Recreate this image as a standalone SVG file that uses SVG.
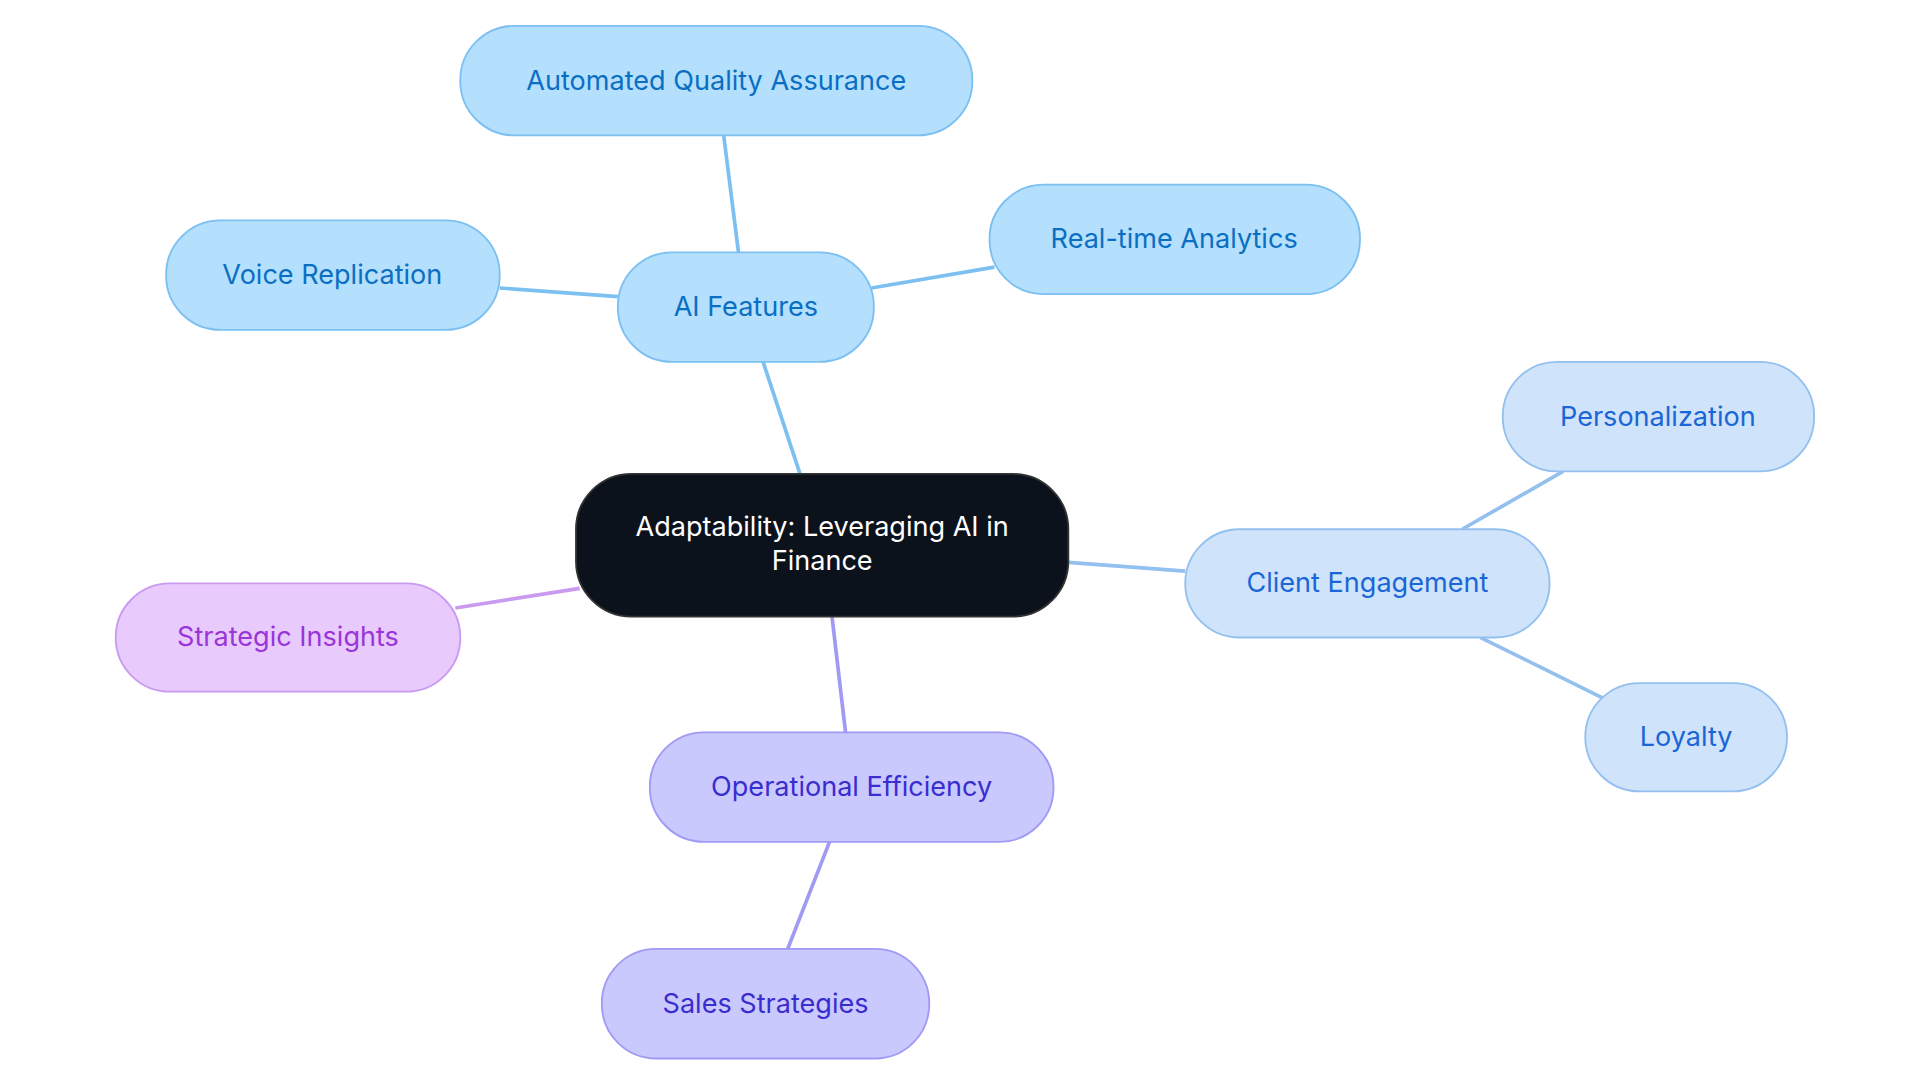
<svg xmlns="http://www.w3.org/2000/svg" width="1920" height="1083" viewBox="0 0 1920 1083">
<style>
text{font-family:Inter,"Noto Sans","Liberation Sans",sans-serif;font-size:22px;text-anchor:middle;dominant-baseline:central}
.e{fill:none;stroke-width:3}
.b rect{fill:#b4dffd;stroke:#7cc0f2;stroke-width:1.5}.b text{fill:#0a6fc2}
.c rect{fill:#cfe3fb;stroke:#94c0ef;stroke-width:1.5}.c text{fill:#1a66d6}
.p rect{fill:#c9c9fd;stroke:#a09af4;stroke-width:1.5}.p text{fill:#3a2dcf}
.m rect{fill:#e8cafd;stroke:#c99af0;stroke-width:1.5}.m text{fill:#9a35d9}
</style>
<rect width="1920" height="1083" fill="#fff"/>
<g transform="scale(1.23077)">
<g id="connectors">
<path class="e" stroke="#7cc0f2" d="M650 385L620 294M600 205L588 110M708 234L808 217M502 241L406 234"/>
<path class="e" stroke="#94c0ef" d="M868 457L963 464M1188 430L1270 383M1203 518L1302 567"/>
<path class="e" stroke="#c99af0" d="M471 478L370 494"/>
<path class="e" stroke="#a09af4" d="M676 501L687 595M674 684L640 771"/>
</g>
<g id="center"><rect x="468" y="385" width="400" height="116" rx="45" fill="#0c121c" stroke="#333" stroke-width="1.5"/><text x="668" y="428" fill="#fff">Adaptability: Leveraging AI in</text><text x="668" y="455" fill="#fff">Finance</text></g>
<g id="ai" class="b"><rect x="502" y="205" width="208" height="89" rx="44"/><text x="606" y="249">AI Features</text></g>
<g id="aqa" class="b"><rect x="374" y="21" width="416" height="89" rx="44"/><text x="582" y="65">Automated Quality Assurance</text></g>
<g id="rta" class="b"><rect x="804" y="150" width="301" height="89" rx="44"/><text x="954" y="194">Real-time Analytics</text></g>
<g id="voice" class="b"><rect x="135" y="179" width="271" height="89" rx="44"/><text x="270" y="223">Voice Replication</text></g>
<g id="client" class="c"><rect x="963" y="430" width="296" height="88" rx="44"/><text x="1111" y="473">Client Engagement</text></g>
<g id="pers" class="c"><rect x="1221" y="294" width="253" height="89" rx="44"/><text x="1347" y="338">Personalization</text></g>
<g id="loyalty" class="c"><rect x="1288" y="555" width="164" height="88" rx="44"/><text x="1370" y="598">Loyalty</text></g>
<g id="strategic" class="m"><rect x="94" y="474" width="280" height="88" rx="44"/><text x="234" y="517">Strategic Insights</text></g>
<g id="op" class="p"><rect x="528" y="595" width="328" height="89" rx="44"/><text x="692" y="639">Operational Efficiency</text></g>
<g id="sales" class="p"><rect x="489" y="771" width="266" height="89" rx="44"/><text x="622" y="815">Sales Strategies</text></g>
</g>
</svg>
